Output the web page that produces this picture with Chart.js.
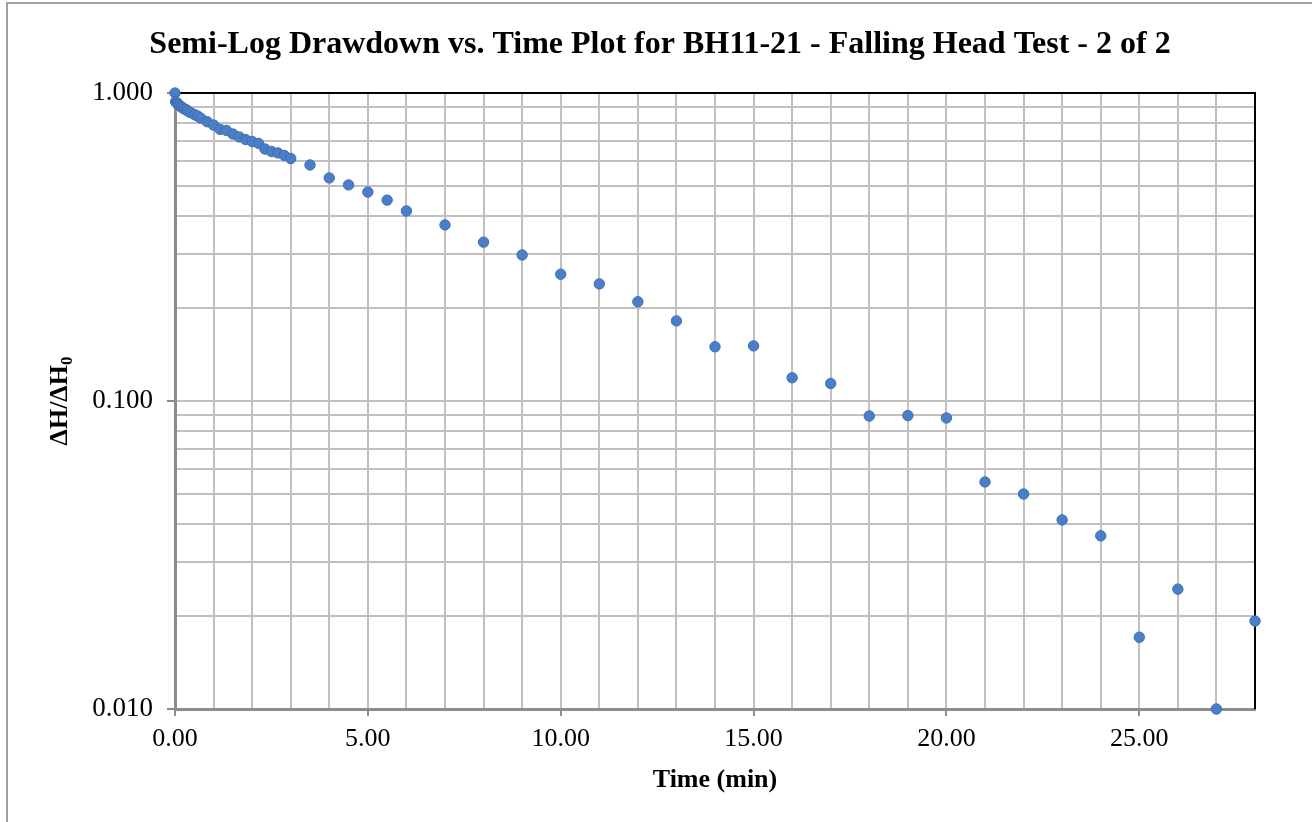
<!DOCTYPE html>
<html>
<head>
<meta charset="utf-8">
<style>
  html,body{margin:0;padding:0;background:#fff;}
  #wrap{width:1312px;height:822px;position:relative;}
</style>
<script src="https://cdn.jsdelivr.net/npm/chart.js@4.4.1/dist/chart.umd.min.js"></script>
</head>
<body>
<div id="wrap"><canvas id="chart" width="1312" height="822"></canvas></div>
<script>
// falling head test readings: elapsed time (min) and normalised head ratio dH/dH0
const timeMin = [
  0, 0.017, 0.033, 0.05, 0.067, 0.083, 0.1, 0.133, 0.167, 0.2, 0.25, 0.3, 0.333, 0.4, 0.5, 0.583, 0.667, 0.833,
  1.0, 1.167, 1.333, 1.5, 1.667, 1.833, 2.0, 2.167, 2.333, 2.5, 2.667, 2.833, 3.0,
  3.5, 4, 4.5, 5, 5.5, 6, 7, 8, 9, 10, 11, 12, 13, 14, 15, 16, 17, 18, 19, 20,
  21, 22, 23, 24, 25, 26, 27, 28
];
const headRatio = [
  1.0, 0.938, 0.932, 0.928, 0.925, 0.918, 0.914, 0.907, 0.901, 0.894, 0.887, 0.881, 0.874, 0.864, 0.852, 0.842, 0.829, 0.807,
  0.787, 0.762, 0.756, 0.736, 0.720, 0.706, 0.696, 0.686, 0.658, 0.646, 0.639, 0.627, 0.613,
  0.584, 0.530, 0.503, 0.477, 0.449, 0.414, 0.373, 0.328, 0.298, 0.258, 0.240, 0.210, 0.182, 0.150, 0.151, 0.119, 0.114, 0.0894, 0.0897, 0.0881,
  0.0546, 0.0499, 0.0411, 0.0365, 0.0171, 0.0245, 0.0100, 0.0193
];

const xMin = 0, xMax = 28;
const xLabelEvery = 5;
const yDecades = [0.01, 0.1, 1];
const ySignificands = [1, 2, 3, 4, 5, 6, 7, 8, 9];

const serif = "'Liberation Serif', 'Times New Roman', serif";

const points = timeMin.map((t, i) => ({ x: t, y: headRatio[i] }));

const yGridValues = [];
yDecades.forEach(d => {
  if (d === 1) { yGridValues.push(1); return; }
  ySignificands.forEach(s => yGridValues.push(+(s * d).toPrecision(3)));
});
const isMajorY = v => yDecades.some(d => Math.abs(d - v) < 1e-9);

const xGridValues = [];
for (let t = xMin; t <= xMax; t++) xGridValues.push(t);

const decor = {
  id: 'decor',
  beforeDraw(chart){
    const ctx = chart.ctx;
    ctx.save();
    ctx.fillStyle = '#fff';
    ctx.fillRect(0, 0, chart.width, chart.height);
    ctx.strokeStyle = '#a0a0a0';
    ctx.lineWidth = 2;
    ctx.beginPath();
    ctx.moveTo(7, chart.height + 5);
    ctx.lineTo(7, 3);
    ctx.lineTo(chart.width + 5, 3);
    ctx.stroke();
    ctx.restore();
  },
  beforeDatasetsDraw(chart){
    const {left, right, top, bottom} = chart.chartArea;
    const ctx = chart.ctx;
    ctx.save();
    ctx.strokeStyle = '#000';
    ctx.lineWidth = 2;
    ctx.beginPath();
    ctx.moveTo(left, top);
    ctx.lineTo(right, top);
    ctx.lineTo(right, bottom);
    ctx.stroke();
    ctx.restore();
  },
  afterDraw(chart){
    const ctx = chart.ctx;
    const {left, right, top, bottom} = chart.chartArea;
    ctx.save();
    ctx.fillStyle = '#000';
    // title
    ctx.font = "bold 32px " + serif;
    ctx.textAlign = 'center';
    ctx.textBaseline = 'alphabetic';
    ctx.fillText('Semi-Log Drawdown vs. Time Plot for BH11-21 - Falling Head Test - 2 of 2', 660, 53);
    // x title
    ctx.font = "bold 26px " + serif;
    ctx.fillText('Time (min)', (left + right) / 2, 787);
    // y title with subscript
    const main = 'ΔH/ΔH', sub = '0';
    ctx.font = "bold 26px " + serif;
    const w1 = ctx.measureText(main).width;
    ctx.font = "bold 17px " + serif;
    const w2 = ctx.measureText(sub).width;
    ctx.translate(67, (top + bottom) / 2);
    ctx.rotate(-Math.PI / 2);
    ctx.textAlign = 'left';
    const x0 = -(w1 + w2) / 2;
    ctx.font = "bold 26px " + serif;
    ctx.fillText(main, x0, 0);
    ctx.font = "bold 17px " + serif;
    ctx.fillText(sub, x0 + w1, 5);
    ctx.restore();
  }
};

new Chart(document.getElementById('chart'), {
  type: 'scatter',
  data: {
    datasets: [{
      label: 'dH/dH0',
      data: points,
      backgroundColor: '#4a7fc8',
      borderColor: '#3f70b4',
      borderWidth: 1,
      pointRadius: 5.2,
      pointHoverRadius: 5.2,
      clip: false
    }]
  },
  options: {
    responsive: false,
    animation: false,
    events: [],
    layout: { padding: { left: 0, top: 93, right: 57, bottom: 0 } },
    plugins: { legend: { display: false }, tooltip: { enabled: false }, title: { display: false } },
    scales: {
      x: {
        type: 'linear',
        min: xMin,
        max: xMax,
        afterFit(scale){ scale.height = 113; },
        afterBuildTicks(scale){ scale.ticks = xGridValues.map(v => ({ value: v })); },
        ticks: {
          autoSkip: false,
          maxRotation: 0,
          padding: 8,
          color: '#000',
          font: { family: serif, size: 26 },
          callback: v => (v % xLabelEvery === 0 ? Number(v).toFixed(2) : '')
        },
        grid: {
          color: '#c0c0c0',
          lineWidth: 2,
          tickLength: 7,
          tickColor: ctx => (ctx.tick && ctx.tick.value % xLabelEvery === 0 ? '#8c8c8c' : 'rgba(0,0,0,0)'),
          tickWidth: 2
        },
        border: { color: '#8c8c8c', width: 3 }
      },
      y: {
        type: 'logarithmic',
        min: 0.01,
        max: 1,
        afterFit(scale){ scale.width = 175; },
        afterBuildTicks(scale){ scale.ticks = yGridValues.map(v => ({ value: v, major: isMajorY(v) })); },
        ticks: {
          autoSkip: false,
          padding: 14,
          color: '#000',
          font: { family: serif, size: 27 },
          callback: v => (isMajorY(v) ? Number(v).toFixed(3) : '')
        },
        grid: {
          color: '#c0c0c0',
          lineWidth: 2,
          tickLength: 8,
          tickColor: ctx => (ctx.tick && isMajorY(ctx.tick.value) ? '#8c8c8c' : 'rgba(0,0,0,0)'),
          tickWidth: 2
        },
        border: { color: '#8c8c8c', width: 3 }
      }
    }
  },
  plugins: [decor]
});
</script>
</body>
</html>
